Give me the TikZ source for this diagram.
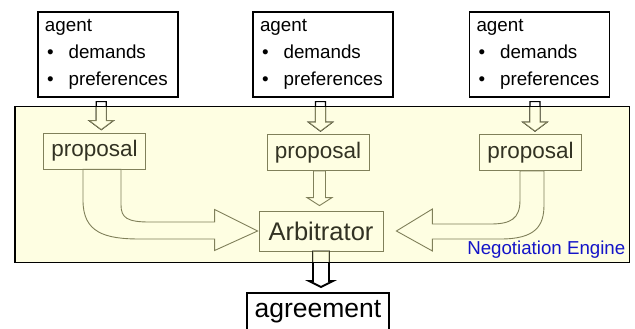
\documentclass[tikz,border=0pt]{standalone}
\usepackage{fontspec}
\setmainfont{Liberation Sans}
\usetikzlibrary{calc}
\definecolor{engcream}{RGB}{254,254,226}
\definecolor{boxolive}{RGB}{128,128,90}
\definecolor{textolive}{RGB}{50,50,35}
\definecolor{engblue}{RGB}{20,20,200}
\tikzset{
  agentbox/.style={draw=black, line width=1.3pt, fill=white, minimum width=140pt,
    minimum height=85pt, text width=126pt, align=left, font=\fontsize{18.8}{27}\selectfont},
  propbox/.style={draw=boxolive, line width=0.8pt, fill=engcream, minimum width=102pt,
    minimum height=36pt, inner sep=0pt, text=textolive, font=\fontsize{22.5}{26}\selectfont},
  outarr/.style={draw=black, fill=white, line width=1.2pt, line join=miter},
  inarr/.style={draw=boxolive, fill=engcream, line width=0.9pt, line join=miter}
}
% down block arrow: style, top point, tip point, shaft half width, head half width, head length
\newcommand\blockdown[6]{%
  \draw[#1] let \p1=(#2), \p2=(#3) in
    (\x1-#4pt,\y1) -- (\x1-#4pt,\y2+#6pt) -- (\x1-#5pt,\y2+#6pt) -- (\x1,\y2)
    -- (\x1+#5pt,\y2+#6pt) -- (\x1+#4pt,\y2+#6pt) -- (\x1+#4pt,\y1) -- cycle;}
\newcommand\agenttext{agent\\
  \hspace*{2pt}\textbullet\hspace{15pt}demands\\
  \hspace*{2pt}\textbullet\hspace{15pt}preferences}
\begin{document}
\begin{tikzpicture}[x=1pt, y=-1pt]
  \useasboundingbox (0,0) rectangle (635,329);
  % negotiation engine
  \node[draw=black, line width=1pt, fill=engcream, minimum width=614pt, minimum height=155pt,
    inner sep=0pt] (engine) at (322,184.5) {};
  \node[anchor=south east, inner sep=4pt, text=engblue, font=\fontsize{18.7}{20}\selectfont]
    (engname) at (engine.south east) {Negotiation Engine};
  % agents
  \node[agentbox] (agentL) at (108,54.5) {\agenttext};
  \node[agentbox] (agentM) at (323,54.5) {\agenttext};
  \node[agentbox] (agentR) at (539.5,54.5) {\agenttext};
  % proposals
  \node[propbox] (propL) at (94.5,151) {proposal};
  \node[propbox] (propM) at (318,152.5) {proposal};
  \node[propbox] (propR) at (530.5,152.5) {proposal};
  % arbitrator and result
  \node[propbox, minimum width=124pt, minimum height=40pt, font=\fontsize{25.5}{30}\selectfont]
    (arbiter) at (321,231) {Arbitrator};
  \node[draw=black, line width=2pt, fill=white, minimum width=142pt, minimum height=38pt,
    inner sep=0pt, font=\fontsize{26.5}{30}\selectfont] (agree) at (318,312) {agreement};
  % top and tip points of the straight arrows
  \coordinate (topL) at ($(agentL.south)!0.5!(agentL.south -| propL.north)+(0,4)$);
  \coordinate (topM) at ($(agentM.south)!0.5!(agentM.south -| propM.north)+(0,4)$);
  \coordinate (topR) at ($(agentR.south)!0.5!(agentR.south -| propR.north)+(0,4)$);
  \coordinate (tipL) at ($(propL.north)+(0,-3)$);
  \coordinate (tipM) at ($(propM.north)+(0,-3)$);
  \coordinate (tipR) at ($(propR.north)+(0,-3)$);
  \coordinate (topP) at ($(propM.south)!0.5!(propM.south -| arbiter.north)$);
  \coordinate (tipA) at ($(arbiter.north)+(0,-5)$);
  \coordinate (tipG) at ($(agree.north)+(0,-5)$);
  % arrows crossing the engine border: black outside
  \blockdown{outarr}{topL}{tipL}{5}{12}{9}
  \blockdown{outarr}{topM}{tipM}{5}{12}{9}
  \blockdown{outarr}{topR}{tipR}{5}{12}{9}
  \blockdown{outarr, line width=1.8pt}{arbiter.south}{tipG}{8}{12}{6}
  % ... and olive inside
  \begin{scope}
    \clip (engine.south west) rectangle (engine.north east);
    \blockdown{inarr}{topL}{tipL}{5}{12}{9}
    \blockdown{inarr}{topM}{tipM}{5}{12}{9}
    \blockdown{inarr}{topR}{tipR}{5}{12}{9}
    \blockdown{inarr}{arbiter.south}{tipG}{8}{12}{6}
  \end{scope}
  \draw[line width=1pt] (engine.south west) rectangle (engine.north east);
  \blockdown{inarr}{topP}{tipA}{6}{12.5}{8}
  % curved arrows into the arbitrator
  \draw[inarr] let \p1=(propL.south), \p2=(arbiter.west) in
    (\x1-11.5pt,\y1) -- (\x1-11.5pt,\y1-31pt)
    .. controls (\x1-11.5pt,\y1-63pt) and (\x1+10pt,\y2-8pt) .. (\x1+45pt,\y2-8pt)
    -- (\x2-44pt,\y2-8pt) -- (\x2-44pt,\y2-19.5pt) -- (\x2-1pt,\y2)
    -- (\x2-44pt,\y2+21.5pt) -- (\x2-44pt,\y2+9pt) -- (\x1+55pt,\y2+9pt)
    .. controls (\x1+33pt,\y2+9pt) and (\x1+26.5pt,\y2+13pt) .. (\x1+26.5pt,\y2+26pt)
    -- (\x1+26.5pt,\y1) -- cycle;
  \draw[inarr] let \p1=(propR.south), \p2=(arbiter.east) in
    (\x1-10.5pt,\y1) -- (\x1-10.5pt,\y2+31pt)
    .. controls (\x1-10.5pt,\y2+12pt) and (\x1-20pt,\y2+7pt) .. (\x1-40pt,\y2+7pt)
    -- (\x2+49pt,\y2+7pt) -- (\x2+49pt,\y2+22pt) -- (\x2+13pt,\y2)
    -- (\x2+49pt,\y2-20pt) -- (\x2+49pt,\y2-8pt) -- (\x1-30pt,\y2-8pt)
    .. controls (\x1+5pt,\y2-8pt) and (\x1+13.5pt,\y2+5pt) .. (\x1+13.5pt,\y2+26pt)
    -- (\x1+13.5pt,\y1) -- cycle;
\end{tikzpicture}
\end{document}
